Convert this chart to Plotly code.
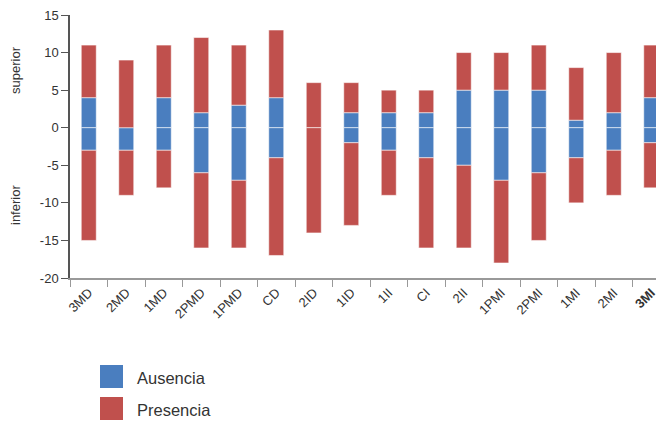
import plotly.graph_objects as go

categories = ["3MD", "2MD", "1MD", "2PMD", "1PMD", "CD", "2ID", "1ID",
              "1II", "CI", "2II", "1PMI", "2PMI", "1MI", "2MI", "<b>3MI</b>"]
# Ausencia extent (upper / lower)
aus_sup = [4, 0, 4, 2, 3, 4, 0, 2, 2, 2, 5, 5, 5, 1, 2, 4]
aus_inf = [-3, -3, -3, -6, -7, -4, 0, -2, -3, -4, -5, -7, -6, -4, -3, -2]
# Total extent (upper / lower), Presencia fills the rest
tot_sup = [11, 9, 11, 12, 11, 13, 6, 6, 5, 5, 10, 10, 11, 8, 10, 11]
tot_inf = [-15, -9, -8, -16, -16, -17, -14, -13, -9, -16, -16, -18, -15, -10, -9, -8]
y_tickvals = [15, 10, 5, 0, -5, -10, -15, -20]
y_ticktext = ["15", "10", "5", "0", "-5", "-10", "-15", "-20"]

pres_sup = [t - a for t, a in zip(tot_sup, aus_sup)]
pres_inf = [t - a for t, a in zip(tot_inf, aus_inf)]

BLUE = "#4A7EBF"
RED = "#C0504D"
line = dict(color="rgba(255,255,255,0.55)", width=1)

fig = go.Figure()
fig.add_bar(x=categories, y=aus_sup, name="Ausencia", marker=dict(color=BLUE, line=line), width=0.4, showlegend=False)
fig.add_bar(x=categories, y=aus_inf, name="Ausencia", marker=dict(color=BLUE, line=line), width=0.4, showlegend=False)
fig.add_bar(x=categories, y=pres_sup, name="Presencia", marker=dict(color=RED, line=line), width=0.4, showlegend=False)
fig.add_bar(x=categories, y=pres_inf, name="Presencia", marker=dict(color=RED, line=line), width=0.4, showlegend=False)

# page body has an 8px default margin; the figure fills the rest of the window
OFF = 8
W, H = 664 - OFF, 424 - OFF
L, R, T, B = 70 - OFF, 0, 15 - OFF, 424 - 278
pw, ph = W - L - R, H - T - B

def px(x):
    return (x - OFF - L) / pw

def py(y):
    return (H - B - (y - OFF)) / ph

shapes = []
annotations = []
for i, (name, col) in enumerate([("Ausencia", BLUE), ("Presencia", RED)]):
    y0 = 365 + i * 32
    shapes.append(dict(type="rect", xref="paper", yref="paper",
                       x0=px(100), x1=px(123), y0=py(y0 + 23), y1=py(y0),
                       fillcolor=col, line=dict(width=0)))
    annotations.append(dict(xref="paper", yref="paper", x=px(135), y=py(y0 + 13),
                            text=name, showarrow=False, xanchor="left", yanchor="middle",
                            font=dict(size=16.5, color="#333333")))

annotations.append(dict(xref="paper", yref="paper", x=px(15), y=py(70), text="superior",
                        textangle=-90, showarrow=False, xanchor="center", yanchor="middle",
                        font=dict(size=13, color="#333333")))
annotations.append(dict(xref="paper", yref="paper", x=px(15), y=py(205), text="inferior",
                        textangle=-90, showarrow=False, xanchor="center", yanchor="middle",
                        font=dict(size=13, color="#333333")))

fig.update_layout(
    width=W, height=H,
    margin=dict(l=L, r=R, t=T, b=B),
    barmode="relative",
    bargap=0.6,
    paper_bgcolor="white", plot_bgcolor="white",
    font=dict(family="Liberation Sans, Arial, sans-serif", color="#333333"),
    shapes=shapes, annotations=annotations,
    showlegend=False,
)
fig.update_xaxes(
    range=[-0.5, -0.5 + pw / 37.5],
    tickangle=-45, tickfont=dict(size=13, color="#333333"),
    showline=True, linecolor="#999999", linewidth=2,
    ticks="outside", tickson="boundaries", ticklen=7, tickcolor="#999999", tickwidth=1,
    showgrid=False, zeroline=False, ticklabeloverflow="allow",
)
fig.update_yaxes(
    range=[-20, 15], tickvals=y_tickvals, ticktext=y_ticktext,
    tickfont=dict(size=13, color="#333333"),
    showline=True, linecolor="#555555", linewidth=1.5,
    ticks="outside", ticklen=7, tickcolor="#555555",
    showgrid=False, zeroline=False, ticklabeloverflow="allow",
)

fig.write_html("out.html")
